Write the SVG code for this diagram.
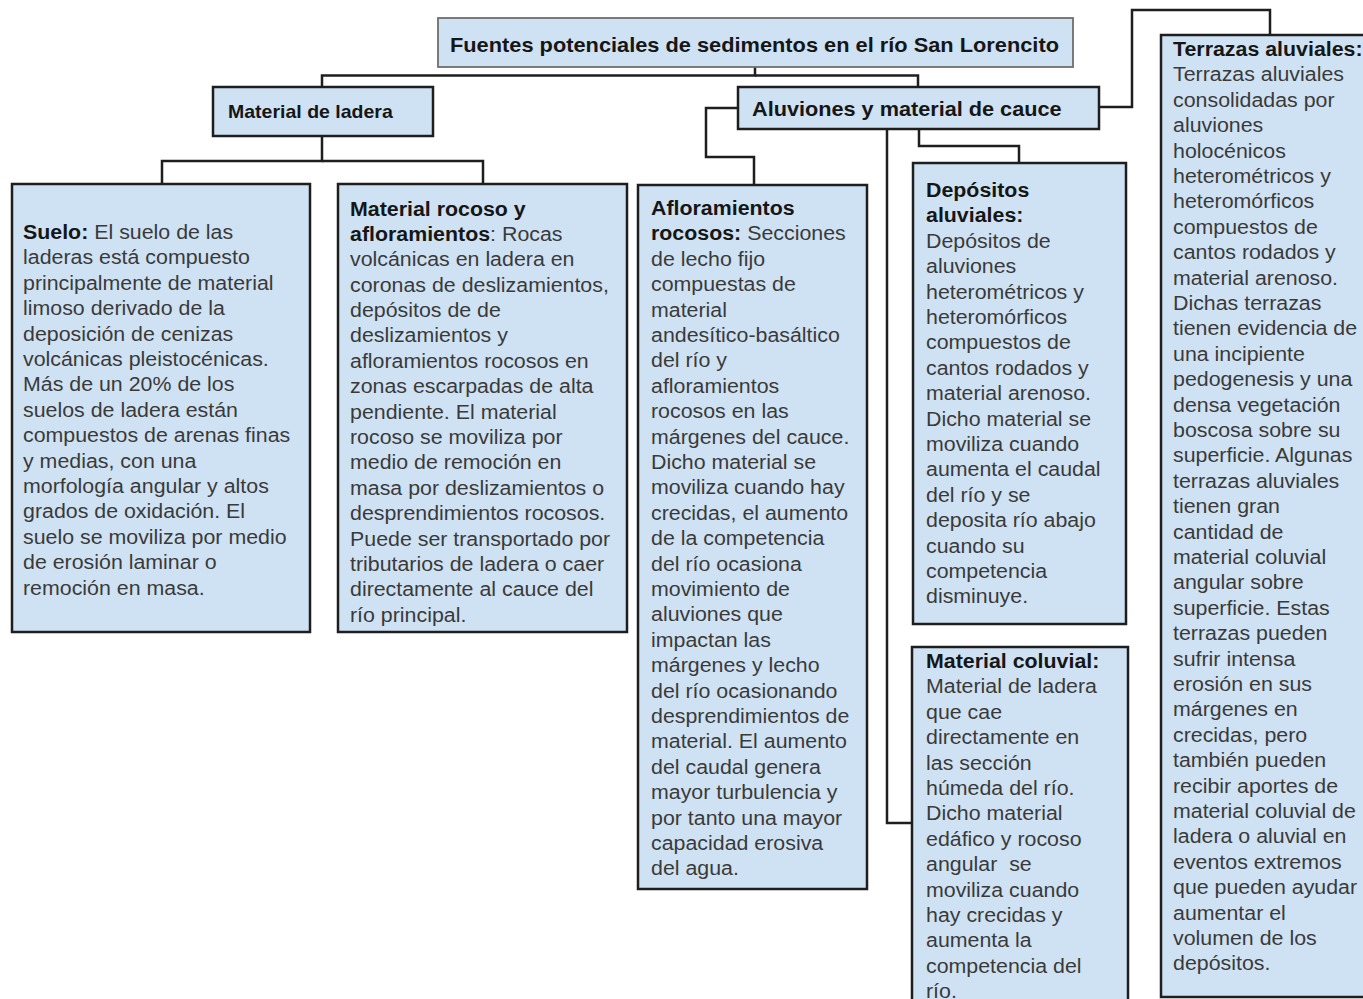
<svg xmlns="http://www.w3.org/2000/svg" width="1363" height="999" viewBox="0 0 1363 999">
<style>
.box{fill:#cfe2f3;stroke:#1e1e1e;stroke-width:2.5}
.tbox{fill:#cfe2f3;stroke:#6e6e6e;stroke-width:1.8}
.con{fill:none;stroke:#1e1e1e;stroke-width:2.5;stroke-linejoin:miter}
.t{font-family:"Liberation Sans",Arial,sans-serif;font-size:19.6px;fill:#3a3a3a}
.h{font-family:"Liberation Sans",Arial,sans-serif;font-weight:bold;fill:#161616}
.b{font-weight:bold;fill:#161616}
</style>
<rect width="1363" height="999" fill="#ffffff"/>
<g id="connectors">
<path class="con" d="M755,67 V75.5 H322 V87"/>
<path class="con" d="M755,75.5 H918 V87"/>
<path class="con" d="M322,136 V161 H162 V184"/>
<path class="con" d="M322,161 H483 V184"/>
<path class="con" d="M738,108 H706 V157 H754 V185"/>
<path class="con" d="M919,129 V146 H1019 V163"/>
<path class="con" d="M887,129 V823 H912"/>
<path class="con" d="M1099,107 H1132 V10 H1270 V35"/>
</g>
<g id="title">
<rect class="tbox" x="438" y="18" width="635" height="49"/>
<text class="h" font-size="20px" transform="translate(450,52) scale(1.09,1)">Fuentes potenciales de sedimentos en el río San Lorencito</text>
</g>
<g id="material-ladera">
<rect class="box" x="213" y="87" width="220" height="49"/>
<text class="h" font-size="17.9px" transform="translate(228,118) scale(1.09,1)">Material de ladera</text>
</g>
<g id="aluviones">
<rect class="box" x="738" y="87" width="361" height="42"/>
<text class="h" font-size="19.9px" transform="translate(752,116) scale(1.09,1)">Aluviones y material de cauce</text>
</g>
<g id="suelo">
<rect class="box" x="12" y="184" width="298" height="448"/>
<text class="t" transform="translate(23,239) scale(1.09,1)"><tspan x="0" y="0"><tspan class="b">Suelo:</tspan> El suelo de las</tspan><tspan x="0" dy="25.4">laderas está compuesto</tspan><tspan x="0" dy="25.4">principalmente de material</tspan><tspan x="0" dy="25.4">limoso derivado de la</tspan><tspan x="0" dy="25.4">deposición de cenizas</tspan><tspan x="0" dy="25.4">volcánicas pleistocénicas.</tspan><tspan x="0" dy="25.4">Más de un 20% de los</tspan><tspan x="0" dy="25.4">suelos de ladera están</tspan><tspan x="0" dy="25.4">compuestos de arenas finas</tspan><tspan x="0" dy="25.4">y medias, con una</tspan><tspan x="0" dy="25.4">morfología angular y altos</tspan><tspan x="0" dy="25.4">grados de oxidación. El</tspan><tspan x="0" dy="25.4">suelo se moviliza por medio</tspan><tspan x="0" dy="25.4">de erosión laminar o</tspan><tspan x="0" dy="25.4">remoción en masa.</tspan></text>
</g>
<g id="material-rocoso">
<rect class="box" x="338" y="184" width="289" height="448"/>
<text class="t" transform="translate(350,215.5) scale(1.09,1)"><tspan x="0" y="0" class="b">Material rocoso y</tspan><tspan x="0" dy="25.4"><tspan class="b">afloramientos</tspan>: Rocas</tspan><tspan x="0" dy="25.4">volcánicas en ladera en</tspan><tspan x="0" dy="25.4">coronas de deslizamientos,</tspan><tspan x="0" dy="25.4">depósitos de de</tspan><tspan x="0" dy="25.4">deslizamientos y</tspan><tspan x="0" dy="25.4">afloramientos rocosos en</tspan><tspan x="0" dy="25.4">zonas escarpadas de alta</tspan><tspan x="0" dy="25.4">pendiente. El material</tspan><tspan x="0" dy="25.4">rocoso se moviliza por</tspan><tspan x="0" dy="25.4">medio de remoción en</tspan><tspan x="0" dy="25.4">masa por deslizamientos o</tspan><tspan x="0" dy="25.4">desprendimientos rocosos.</tspan><tspan x="0" dy="25.4">Puede ser transportado por</tspan><tspan x="0" dy="25.4">tributarios de ladera o caer</tspan><tspan x="0" dy="25.4">directamente al cauce del</tspan><tspan x="0" dy="25.4">río principal.</tspan></text>
</g>
<g id="afloramientos">
<rect class="box" x="638" y="185" width="229" height="704"/>
<text class="t" transform="translate(651,215) scale(1.09,1)"><tspan x="0" y="0" class="b">Afloramientos</tspan><tspan x="0" dy="25.4"><tspan class="b">rocosos:</tspan> Secciones</tspan><tspan x="0" dy="25.4">de lecho fijo</tspan><tspan x="0" dy="25.4">compuestas de</tspan><tspan x="0" dy="25.4">material</tspan><tspan x="0" dy="25.4">andesítico-basáltico</tspan><tspan x="0" dy="25.4">del río y</tspan><tspan x="0" dy="25.4">afloramientos</tspan><tspan x="0" dy="25.4">rocosos en las</tspan><tspan x="0" dy="25.4">márgenes del cauce.</tspan><tspan x="0" dy="25.4">Dicho material se</tspan><tspan x="0" dy="25.4">moviliza cuando hay</tspan><tspan x="0" dy="25.4">crecidas, el aumento</tspan><tspan x="0" dy="25.4">de la competencia</tspan><tspan x="0" dy="25.4">del río ocasiona</tspan><tspan x="0" dy="25.4">movimiento de</tspan><tspan x="0" dy="25.4">aluviones que</tspan><tspan x="0" dy="25.4">impactan las</tspan><tspan x="0" dy="25.4">márgenes y lecho</tspan><tspan x="0" dy="25.4">del río ocasionando</tspan><tspan x="0" dy="25.4">desprendimientos de</tspan><tspan x="0" dy="25.4">material. El aumento</tspan><tspan x="0" dy="25.4">del caudal genera</tspan><tspan x="0" dy="25.4">mayor turbulencia y</tspan><tspan x="0" dy="25.4">por tanto una mayor</tspan><tspan x="0" dy="25.4">capacidad erosiva</tspan><tspan x="0" dy="25.4">del agua.</tspan></text>
</g>
<g id="depositos">
<rect class="box" x="913" y="163" width="213" height="461"/>
<text class="t" transform="translate(926,197) scale(1.09,1)"><tspan x="0" y="0" class="b">Depósitos</tspan><tspan x="0" dy="25.4" class="b">aluviales:</tspan><tspan x="0" dy="25.4">Depósitos de</tspan><tspan x="0" dy="25.4">aluviones</tspan><tspan x="0" dy="25.4">heterométricos y</tspan><tspan x="0" dy="25.4">heteromórficos</tspan><tspan x="0" dy="25.4">compuestos de</tspan><tspan x="0" dy="25.4">cantos rodados y</tspan><tspan x="0" dy="25.4">material arenoso.</tspan><tspan x="0" dy="25.4">Dicho material se</tspan><tspan x="0" dy="25.4">moviliza cuando</tspan><tspan x="0" dy="25.4">aumenta el caudal</tspan><tspan x="0" dy="25.4">del río y se</tspan><tspan x="0" dy="25.4">deposita río abajo</tspan><tspan x="0" dy="25.4">cuando su</tspan><tspan x="0" dy="25.4">competencia</tspan><tspan x="0" dy="25.4">disminuye.</tspan></text>
</g>
<g id="material-coluvial">
<rect class="box" x="912" y="647" width="216" height="400"/>
<text class="t" transform="translate(926,668) scale(1.09,1)"><tspan x="0" y="0" class="b">Material coluvial:</tspan><tspan x="0" dy="25.4">Material de ladera</tspan><tspan x="0" dy="25.4">que cae</tspan><tspan x="0" dy="25.4">directamente en</tspan><tspan x="0" dy="25.4">las sección</tspan><tspan x="0" dy="25.4">húmeda del río.</tspan><tspan x="0" dy="25.4">Dicho material</tspan><tspan x="0" dy="25.4">edáfico y rocoso</tspan><tspan x="0" dy="25.4">angular&#160; se</tspan><tspan x="0" dy="25.4">moviliza cuando</tspan><tspan x="0" dy="25.4">hay crecidas y</tspan><tspan x="0" dy="25.4">aumenta la</tspan><tspan x="0" dy="25.4">competencia del</tspan><tspan x="0" dy="25.4">río.</tspan></text>
</g>
<g id="terrazas">
<rect class="box" x="1161" y="35" width="250" height="962"/>
<text class="t" transform="translate(1173,56) scale(1.09,1)"><tspan x="0" y="0" class="b">Terrazas aluviales:</tspan><tspan x="0" dy="25.4">Terrazas aluviales</tspan><tspan x="0" dy="25.4">consolidadas por</tspan><tspan x="0" dy="25.4">aluviones</tspan><tspan x="0" dy="25.4">holocénicos</tspan><tspan x="0" dy="25.4">heterométricos y</tspan><tspan x="0" dy="25.4">heteromórficos</tspan><tspan x="0" dy="25.4">compuestos de</tspan><tspan x="0" dy="25.4">cantos rodados y</tspan><tspan x="0" dy="25.4">material arenoso.</tspan><tspan x="0" dy="25.4">Dichas terrazas</tspan><tspan x="0" dy="25.4">tienen evidencia de</tspan><tspan x="0" dy="25.4">una incipiente</tspan><tspan x="0" dy="25.4">pedogenesis y una</tspan><tspan x="0" dy="25.4">densa vegetación</tspan><tspan x="0" dy="25.4">boscosa sobre su</tspan><tspan x="0" dy="25.4">superficie. Algunas</tspan><tspan x="0" dy="25.4">terrazas aluviales</tspan><tspan x="0" dy="25.4">tienen gran</tspan><tspan x="0" dy="25.4">cantidad de</tspan><tspan x="0" dy="25.4">material coluvial</tspan><tspan x="0" dy="25.4">angular sobre</tspan><tspan x="0" dy="25.4">superficie. Estas</tspan><tspan x="0" dy="25.4">terrazas pueden</tspan><tspan x="0" dy="25.4">sufrir intensa</tspan><tspan x="0" dy="25.4">erosión en sus</tspan><tspan x="0" dy="25.4">márgenes en</tspan><tspan x="0" dy="25.4">crecidas, pero</tspan><tspan x="0" dy="25.4">también pueden</tspan><tspan x="0" dy="25.4">recibir aportes de</tspan><tspan x="0" dy="25.4">material coluvial de</tspan><tspan x="0" dy="25.4">ladera o aluvial en</tspan><tspan x="0" dy="25.4">eventos extremos</tspan><tspan x="0" dy="25.4">que pueden ayudar</tspan><tspan x="0" dy="25.4">aumentar el</tspan><tspan x="0" dy="25.4">volumen de los</tspan><tspan x="0" dy="25.4">depósitos.</tspan></text>
</g>
</svg>
